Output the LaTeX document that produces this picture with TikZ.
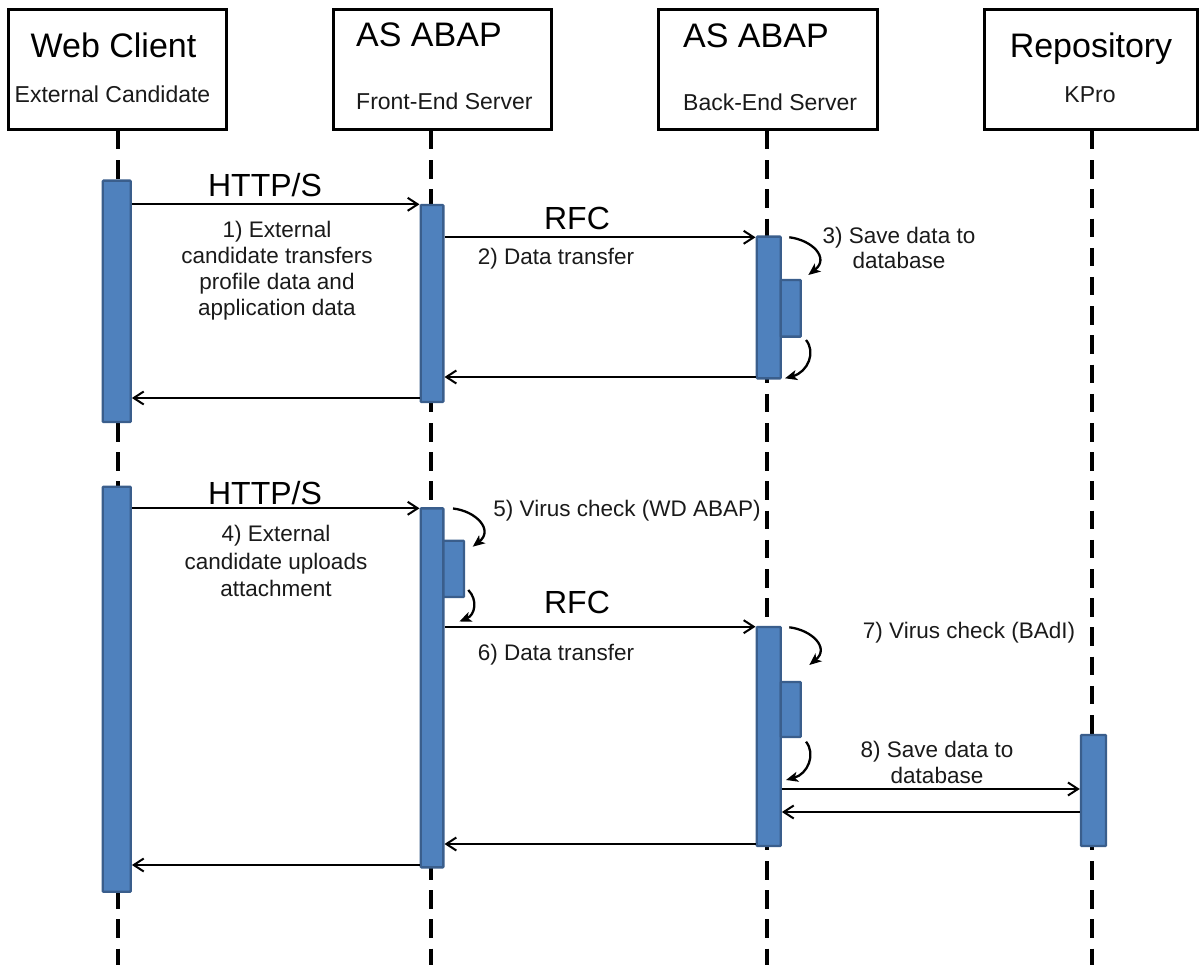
\documentclass[tikz,border=0pt]{standalone}
\usepackage{fontspec}
\setmainfont{Liberation Sans}
\usetikzlibrary{arrows.meta,fit}
\definecolor{barfill}{HTML}{4F81BD}
\definecolor{bardraw}{HTML}{3A5E8C}
\definecolor{txt}{HTML}{1A1A1A}
\begin{document}
\begin{tikzpicture}[x=1pt,y=-1pt,
  head/.style={draw=black, line width=3pt, fill=white, inner sep=0pt},
  life/.style={line width=3.6pt, dash pattern=on 18.5pt off 10.7pt},
  bar/.style={draw=bardraw, fill=barfill, line width=2.4pt, inner sep=0pt, rounded corners=0.8pt},
  msg/.style={line width=2pt, -{Straight Barb[length=10pt,width=13pt,line width=2pt]}},
  selfarr/.style={line width=2.3pt, -{Stealth[length=12pt,width=10pt,inset=3pt]}},
  lbl/.style={text=txt, font=\fontsize{22.5}{27}\selectfont, inner sep=0pt, anchor=base},
  sub/.style={text=txt, font=\fontsize{23}{27}\selectfont, inner sep=0pt, anchor=base},
  title/.style={text=black, font=\fontsize{34}{40}\selectfont, inner sep=0pt, anchor=base},
  proto/.style={text=black, font=\fontsize{32}{38}\selectfont, inner sep=0pt, anchor=base}]

\useasboundingbox (0,0) rectangle (1199,965);

% lifelines
\coordinate (swc) at (118,131);   \coordinate (ewc) at (118,965);
\coordinate (sfe) at (431,131);   \coordinate (efe) at (431,965);
\coordinate (sbe) at (767,131);   \coordinate (ebe) at (767,965);
\coordinate (srp) at (1092,131);  \coordinate (erp) at (1092,965);
\draw[life] (swc) -- (ewc);
\draw[life] (sfe) -- (efe);
\draw[life] (sbe) -- (ebe);
\draw[life] (srp) -- (erp);

% header boxes
\node[head, fit={(8.5,10) (226,129.5)}] (hwc) {};
\node[head, fit={(333.5,10) (551.5,129.5)}] (hfe) {};
\node[head, fit={(658.5,10) (877,129.5)}] (hbe) {};
\node[head, fit={(984,10) (1197.5,129.5)}] (hrp) {};

\node[title] (twc) at (113.5,58) {Web Client};
\node[sub] (uwc) at (112.5,103) {External Candidate};
\node[title, anchor=base west] (tfe) at (356,47) {AS ABAP};
\node[sub, anchor=base west] (ufe) at (356,110) {Front-End Server};
\node[title, anchor=base west] (tbe) at (683,48) {AS ABAP};
\node[sub, anchor=base west] (ube) at (683,111) {Back-End Server};
\node[title] (trp) at (1091,58) {Repository};
\node[sub] (urp) at (1090,103) {KPro};

% activation bars
\node[bar, fit={(102.7,180.7) (130.7,422)}] (wc1) {};
\node[bar, fit={(420.7,205) (443.3,402)}] (fe1) {};
\node[bar, fit={(756.7,236.7) (780.7,378.3)}] (be1) {};
\node[bar, fit={(780.7,280) (800.7,336.7)}] (be1s) {};
\node[bar, fit={(102.7,486.7) (130.7,891.7)}] (wc2) {};
\node[bar, fit={(420.7,508.3) (443.3,867.3)}] (fe2) {};
\node[bar, fit={(443.3,540.7) (464,597)}] (fe2s) {};
\node[bar, fit={(756.7,627) (780.7,846)}] (be2) {};
\node[bar, fit={(780.7,682) (800.7,737)}] (be2s) {};
\node[bar, fit={(1081,735) (1106,846)}] (rp) {};

% messages, first sequence
\draw[msg] (wc1.east |- 0,204.3) -- (fe1.west |- 0,204.3);
\draw[msg] (fe1.east |- 0,237.3) -- (be1.west |- 0,237.3);
\draw[msg] (be1.west |- 0,377) -- (fe1.east |- 0,377);
\draw[msg] (fe1.west |- 0,398) -- (wc1.east |- 0,398);

% messages, second sequence
\draw[msg] (wc2.east |- 0,508.3) -- (fe2.west |- 0,508.3);
\draw[msg] (fe2.east |- 0,626.7) -- (be2.west |- 0,626.7);
\draw[msg] (be2.east |- 0,789) -- (rp.west |- 0,789);
\draw[msg] (rp.west |- 0,812) -- (be2.east |- 0,812);
\draw[msg] (be2.west |- 0,844) -- (fe2.east |- 0,844);
\draw[msg] (fe2.west |- 0,865) -- (wc2.east |- 0,865);

% self calls
\coordinate (a3s) at (789.3,237.3); \coordinate (a3e) at (808.3,275);
\coordinate (b3s) at (806,340);     \coordinate (b3e) at (785,378.3);
\draw[selfarr] (a3s) .. controls (812,240) and (830,258) .. (a3e);
\draw[selfarr] (b3s) .. controls (816,352) and (808,372) .. (b3e);

\coordinate (a5s) at (453,508.5);   \coordinate (a5e) at (472.7,546.7);
\coordinate (b5s) at (468.3,590);   \coordinate (b5e) at (459.3,621.5);
\draw[selfarr] (a5s) .. controls (476,511) and (494,530) .. (a5e);
\draw[selfarr] (b5s) .. controls (478,600) and (475,615) .. (b5e);

\coordinate (a7s) at (789.3,627.3); \coordinate (a7e) at (809.3,665);
\coordinate (b7s) at (806,741.7);   \coordinate (b7e) at (786,780);
\draw[selfarr] (a7s) .. controls (812,630) and (830,648) .. (a7e);
\draw[selfarr] (b7s) .. controls (816,754) and (808,774) .. (b7e);

% labels, first sequence
\node[proto] (p1) at (265,196.7) {HTTP/S};
\node[lbl] (l1a) at (277,237.3) {1) External};
\node[lbl] (l1b) at (277,263.3) {candidate transfers};
\node[lbl] (l1c) at (277,290) {profile data and};
\node[lbl] (l1d) at (277,316) {application data};
\node[proto] (p2) at (577,230) {RFC};
\node[lbl] (l2) at (556,265) {2) Data transfer};
\node[lbl] (l3a) at (899,243.3) {3) Save data to};
\node[lbl] (l3b) at (899,268.3) {database};

% labels, second sequence
\node[proto] (p4) at (265,504) {HTTP/S};
\node[lbl] (l4a) at (276,541.7) {4) External};
\node[lbl] (l4b) at (276,569.3) {candidate uploads};
\node[lbl] (l4c) at (276,596) {attachment};
\node[lbl] (l5) at (627,516) {5) Virus check (WD ABAP)};
\node[proto] (p6) at (577,613.3) {RFC};
\node[lbl] (l6) at (556,660) {6) Data transfer};
\node[lbl] (l7) at (969,638) {7) Virus check (BAdI)};
\node[lbl] (l8a) at (937,757) {8) Save data to};
\node[lbl] (l8b) at (937,783.3) {database};
\end{tikzpicture}
\end{document}
